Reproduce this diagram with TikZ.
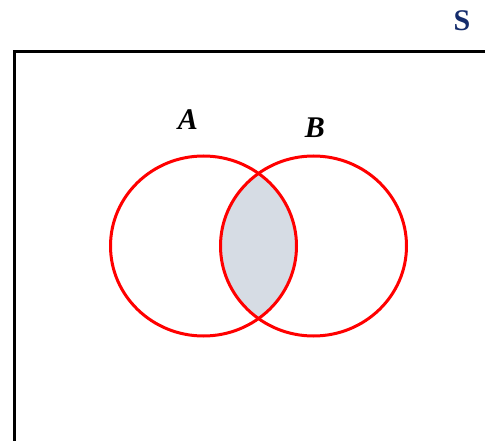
\documentclass[tikz,border=0pt]{standalone}
\usepackage{fontspec}
\setmainfont{Liberation Serif}
\usetikzlibrary{positioning}
\definecolor{Navy}{HTML}{142C6C}
\definecolor{Lens}{HTML}{D6DCE4}

\begin{document}
\begin{tikzpicture}[x=1pt,y=-1pt,
  set/.style={red,line width=3pt},
  every node/.style={font=\fontsize{30}{30}\selectfont\bfseries,inner sep=0pt}]
\useasboundingbox (0,0) rectangle (485,441);
\coordinate (ca) at (203.5,246);\coordinate (cb) at (313.5,246);
\coordinate (low) at (14,450);\coordinate (corner) at (14,52);
\coordinate (far) at (495,52);
% shaded intersection
\begin{scope}
\clip (ca) ellipse [x radius=93,y radius=90];
\fill[Lens] (cb) ellipse [x radius=93,y radius=90];
\end{scope}
\draw[set] (ca) ellipse [x radius=93,y radius=90];
\draw[set] (cb) ellipse [x radius=93,y radius=90];
\draw[line width=3pt] (low)--(corner)--(far);
\node[anchor=base,font=\fontsize{30}{30}\selectfont\bfseries\itshape] (la) at (188,130) {A};
\node[anchor=base,font=\fontsize{30}{30}\selectfont\bfseries\itshape] (lb) at (315,138) {B};
\node[anchor=base,text=Navy] (ls) at (462,31) {S};
\end{tikzpicture}
\end{document}
